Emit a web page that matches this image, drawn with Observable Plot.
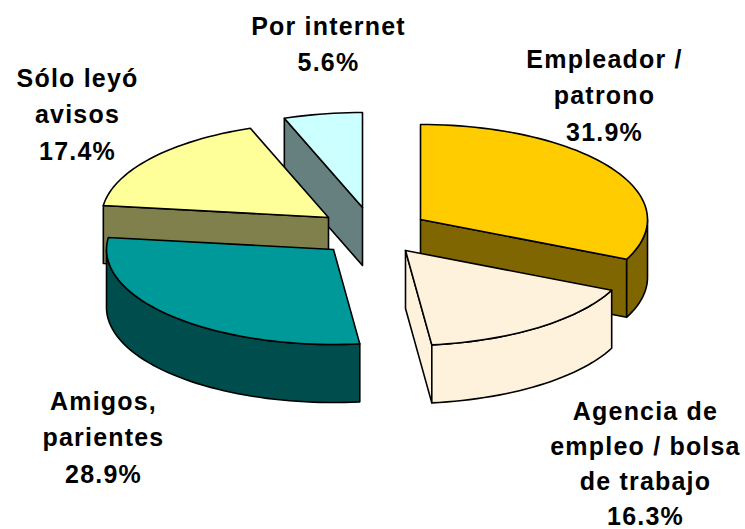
<!DOCTYPE html>
<html>
<head>
<meta charset="utf-8">
<style>
html,body{margin:0;padding:0;background:#fff}
svg text{letter-spacing:1.2px}
</style>
<script src="https://cdn.jsdelivr.net/npm/d3@7"></script>
<script src="https://cdn.jsdelivr.net/npm/@observablehq/plot@0.6"></script>
</head>
<body>
<div id="chart"></div>
<script>
// Data, in pie order (clockwise from 12 o'clock)
const categories = ["Empleador /\npatrono", "Agencia de\nempleo / bolsa\nde trabajo", "Amigos,\nparientes", "Sólo leyó\navisos", "Por internet"];
const shares = [31.9, 16.3, 28.9, 17.4, 5.6];

// Style
const topColors  = ["#FFCC00", "#FFF2DD", "#009999", "#FFFF99", "#CCFFFF"];
const sideColors = ["#806600", "#FFF2DD", "#004D4D", "#80804D", "#668080"];

// Layout of the exploded 3D pie
const explodedX = [420, 405, 333, 328, 362];
const explodedY = [219, 250, 249, 217, 207];
const radiusX = 227, radiusY = 95, depth = 58;
const labelX = [604, 645, 103, 77, 328];
const labelY = [92, 461, 434, 111, 41];
const labelLineHeight = [1.46, 1.4, 1.46, 1.46, 1.46];
const drawOrder = [4, 3, 2, 0, 1];

const total = d3.sum(shares);
const ends = d3.cumsum(shares).map(v => v / total * 360);
const starts = ends.map((_, i) => i ? ends[i - 1] : 0);
const rad = a => a * Math.PI / 180;

function rim(i, a, dy = 0) {
  return {x: explodedX[i] + radiusX * Math.sin(rad(a)), y: explodedY[i] - radiusY * Math.cos(rad(a)) + dy};
}
function arc(i, a0, a1, dy = 0) {
  const n = Math.max(1, Math.ceil(Math.abs(a1 - a0) / 2));
  return d3.range(n + 1).map(k => rim(i, a0 + (a1 - a0) * k / n, dy));
}
function polygon(pts, fill) {
  return Plot.line([...pts, pts[0]], {x: "x", y: "y", fill, stroke: "#000", strokeWidth: 1.6, strokeLinejoin: "round"});
}
function radialWall(i, a) {
  const c = {x: explodedX[i], y: explodedY[i]};
  const r = rim(i, a);
  return polygon([c, r, {x: r.x, y: r.y + depth}, {x: c.x, y: c.y + depth}], sideColors[i]);
}
function sliceMarks(i) {
  const s = starts[i], e = ends[i], out = [];
  if (Math.sin(rad(e)) > 0.01) out.push(radialWall(i, e));
  if (-Math.sin(rad(s)) > 0.01) out.push(radialWall(i, s));
  const a0 = Math.max(s, 90), a1 = Math.min(e, 270);
  if (a1 > a0) out.push(polygon([...arc(i, a0, a1), ...arc(i, a1, a0, depth)], sideColors[i]));
  out.push(polygon([{x: explodedX[i], y: explodedY[i]}, ...arc(i, s, e)], topColors[i]));
  return out;
}
function labelMark(i) {
  return Plot.text([`${categories[i]}\n${shares[i].toFixed(1)}%`], {
    x: [labelX[i]], y: [labelY[i]], text: d => d, textAnchor: "middle", lineAnchor: "middle",
    lineHeight: labelLineHeight[i], fontSize: 25, fontWeight: "bold",
    fontFamily: "Liberation Sans, Arial, sans-serif", fill: "#000"
  });
}

const chart = Plot.plot({
  width: 745, height: 529, margin: 0,
  x: {axis: null, domain: [0, 745], range: [0, 745]},
  y: {axis: null, domain: [0, 529], range: [0, 529]},
  style: {background: "#fff"},
  marks: [
    ...drawOrder.flatMap(sliceMarks),
    ...categories.map((_, i) => labelMark(i))
  ]
});
document.getElementById("chart").appendChild(chart);
</script>
</body>
</html>
